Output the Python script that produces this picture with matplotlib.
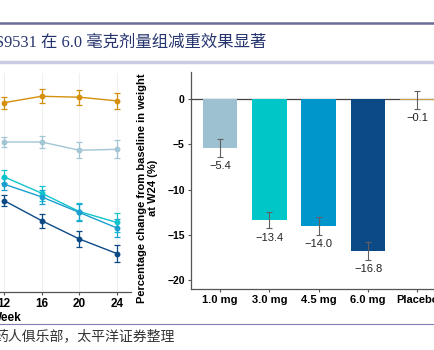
import matplotlib
matplotlib.use('Agg')
import matplotlib.pyplot as plt
from matplotlib.lines import Line2D

plt.rcParams['font.family'] = ['Liberation Sans', 'DejaVu Sans']
plt.rcParams['axes.linewidth'] = 0.9

# left panel: % change over time (only weeks 12-24 are visible)
weeks = [12, 16, 20, 24]
placebo_line = [-0.3, 0.4, 0.3, -0.1]
placebo_line_err = [0.65, 0.75, 0.8, 0.9]
mg10_line = [-4.6, -4.6, -5.5, -5.4]
mg10_line_err = [0.55, 0.7, 0.9, 1.0]
mg30_line = [-8.4, -10.2, -12.2, -13.4]
mg30_line_err = [0.7, 0.8, 0.9, 1.0]
mg45_line = [-9.2, -10.6, -12.3, -14.0]
mg45_line_err = [0.7, 0.8, 0.9, 1.0]
mg60_line = [-11.0, -13.2, -15.2, -16.8]
mg60_line_err = [0.6, 0.75, 0.85, 0.9]

# right panel: change at W24
bar_labels = ['1.0 mg', '3.0 mg', '4.5 mg', '6.0 mg', 'Placebo']
bar_vals = [-5.4, -13.4, -14.0, -16.8, -0.1]
bar_err = [1.0, 0.9, 1.0, 1.0, 0.95]

c_pl = '#d4900c'
c_10 = '#a3c6d4'
c_30 = '#10c4cc'
c_45 = '#1a9fd0'
c_60 = '#0c4a86'
bar_colors = ['#9dc1d0', '#00c6c8', '#0096cb', '#0b4a84', '#c9a040']

W, H = 435.0, 350.0
fig = plt.figure(figsize=(4.35, 3.5), dpi=100)

# ---- left panel (cut off by the crop) ----
axL = fig.add_axes([-118.5 / W, (H - 292) / H, 249.6 / W, 219.5 / H])
series = [(placebo_line, placebo_line_err, c_pl),
          (mg10_line, mg10_line_err, c_10),
          (mg30_line, mg30_line_err, c_30),
          (mg45_line, mg45_line_err, c_45),
          (mg60_line, mg60_line_err, c_60)]
for vals, err, col in series:
    axL.errorbar(weeks, vals, yerr=err, color=col, lw=1.0, marker='o',
                 ms=3.2, capsize=2.5, elinewidth=0.9, capthick=0.9)
axL.set_xlim(-1, 25.5)
axL.set_ylim(-21, 3)
axL.set_xticks(weeks)
axL.set_xticklabels([str(w) for w in weeks], fontsize=8.5, fontweight='bold')
axL.tick_params(axis='x', length=2.5, pad=2, color='#555555')
axL.set_yticks([])
axL.grid(axis='x', color='#f0f0f0', lw=0.8)
axL.set_axisbelow(True)
for s in ['top', 'right', 'left']:
    axL.spines[s].set_visible(False)
axL.spines['bottom'].set_color('#555555')
axL.set_xlabel('Week', fontsize=8.5, fontweight='bold', labelpad=1)

# ---- right panel ----
axR = fig.add_axes([191 / W, (H - 289) / H, 256 / W, 217 / H])
x = list(range(len(bar_labels)))
axR.bar(x, bar_vals, width=0.7, color=bar_colors, zorder=2)
axR.errorbar(x, bar_vals, yerr=bar_err, fmt='none', ecolor='#606060',
             elinewidth=0.8, capsize=2.5, capthick=0.8, zorder=3)
axR.axhline(0, color='#444444', lw=0.9, zorder=1)
for i, (v, e) in enumerate(zip(bar_vals, bar_err)):
    axR.annotate(('%.1f' % v).replace('-', '\u2212'), (i, v - e), xytext=(0, -3),
                 textcoords='offset points', ha='center', va='top',
                 fontsize=8, color='#222222')
axR.set_xlim(-0.59, 4.6)
axR.set_ylim(-21, 3)
axR.set_yticks([0, -5, -10, -15, -20])
axR.set_xticks(x)
axR.set_xticklabels(bar_labels, fontsize=8, fontweight='bold')
for lab in axR.get_yticklabels():
    lab.set_fontsize(7.5)
    lab.set_fontweight('bold')
axR.tick_params(axis='both', length=2.5, pad=2, color='#555555')
for s in ['top', 'right']:
    axR.spines[s].set_visible(False)
axR.spines['left'].set_color('#555555')
axR.spines['bottom'].set_color('#555555')
axR.set_ylabel('Percentage change from baseline in weight\nat W24 (%)',
               fontsize=8, fontweight='bold', linespacing=1.2)
axR.yaxis.set_label_coords(-0.128, 0.465)

# ---- frame lines, title and source ----
fig.add_artist(Line2D([0, 1], [1 - 23 / H, 1 - 23 / H], transform=fig.transFigure,
                      color='#6b6b98', lw=1.8))
fig.add_artist(Line2D([0, 1], [1 - 61.5 / H, 1 - 61.5 / H], transform=fig.transFigure,
                      color='#cacae2', lw=2.5))
fig.add_artist(Line2D([0, 1], [1 - 324 / H, 1 - 324 / H], transform=fig.transFigure,
                      color='#7f7fb0', lw=0.8))

fig.text(-5 / W, 1 - 43 / H, 'S9531 在 6.0 毫克剂量组减重效果显著', fontsize=11.8,
         color='#26356e', ha='left', va='center',
         family=['Liberation Serif', 'Noto Sans CJK SC'])
fig.text(-6 / W, 1 - 336 / H, '药人俱乐部，太平洋证券整理', fontsize=10,
         color='#333333', ha='left', va='center', style='italic',
         family=['Noto Sans CJK SC', 'DejaVu Sans'])

fig.savefig('out.png', dpi=100)
